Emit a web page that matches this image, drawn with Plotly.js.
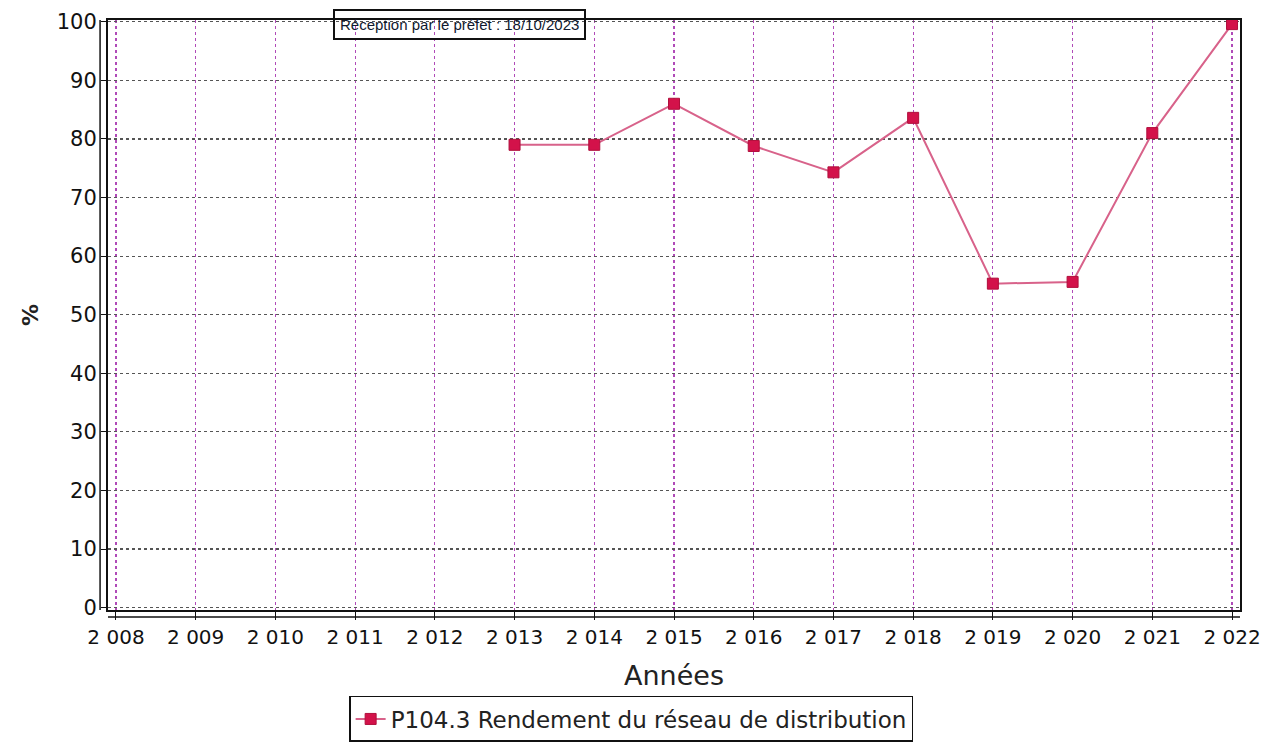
<!DOCTYPE html>
<html>
<head>
<meta charset="utf-8">
<script src="https://cdn.plot.ly/plotly-3.0.1.min.js"></script>
<style>html,body{margin:0;padding:0;background:#fff;}#chart{width:1275px;height:742px;}</style>
</head>
<body>
<div id="chart"></div>
<script>
const years = [2013, 2014, 2015, 2016, 2017, 2018, 2019, 2020, 2021, 2022];
const rendement = [79.0, 79.0, 86.0, 78.8, 74.3, 83.6, 55.3, 55.6, 81.0, 99.6];
const xTickVals = [2008, 2009, 2010, 2011, 2012, 2013, 2014, 2015, 2016, 2017, 2018, 2019, 2020, 2021, 2022];
const xTickText = ["2 008","2 009","2 010","2 011","2 012","2 013","2 014","2 015","2 016","2 017","2 018","2 019","2 020","2 021","2 022"];
const yTickVals = [0, 10, 20, 30, 40, 50, 60, 70, 80, 90, 100];
const seriesName = "P104.3 Rendement du réseau de distribution";
const stampText = "Réception par le préfet : 18/10/2023";

const trace = {
  x: years, y: rendement, name: seriesName,
  type: 'scatter', mode: 'lines+markers',
  line: {color: '#d8628a', width: 2},
  marker: {symbol: 'square', size: 11, color: '#d3124a', line: {color: '#b00f3c', width: 1}}
};

const layout = {
  width: 1275, height: 742,
  margin: {l: 108, r: 35, t: 20, b: 132, autoexpand: false},
  paper_bgcolor: '#fff', plot_bgcolor: '#fff',
  font: {family: 'DejaVu Sans', color: '#111'},
  showlegend: true,
  legend: {
    orientation: 'h', x: 0.495, xanchor: 'center', xref: 'container',
    y: 0.062, yanchor: 'top', yref: 'container',
    bordercolor: '#111', borderwidth: 1.5, font: {size: 23, color: '#222'},
    itemwidth: 30
  },
  xaxis: {
    range: [2007.9, 2022.1], tickvals: xTickVals, ticktext: xTickText,
    tickfont: {size: 20}, ticks: 'outside', ticklen: 8, tickcolor: '#111',
    ticklabelstandoff: 0,
    showgrid: true, gridcolor: '#b04ab8', griddash: 'dot', gridwidth: 1.2,
    showline: true, linecolor: '#111', linewidth: 2, mirror: true,
    zeroline: false, automargin: false,
    title: {text: 'Années', font: {size: 27, color: '#222'}, standoff: 18}
  },
  yaxis: {
    range: [-0.4, 100.3], tickvals: yTickVals,
    tickfont: {size: 21}, ticks: 'outside', ticklen: 5, tickcolor: '#111',
    showgrid: true, gridcolor: '#555', griddash: 'dot', gridwidth: 1.2,
    showline: true, linecolor: '#111', linewidth: 2, mirror: true,
    zeroline: false, automargin: false,
    title: {text: '<b>%</b>', font: {size: 22, color: '#222'}, standoff: 12}
  },
  shapes: [
    {type: 'line', xref: 'paper', yref: 'paper', x0: -0.007, x1: -0.007, y0: 0, y1: 1, line: {color: '#111', width: 1.5}},
    {type: 'line', xref: 'paper', yref: 'paper', x0: 0, x1: 1, y0: -0.012, y1: -0.012, line: {color: '#111', width: 1.5}}
  ],
  annotations: [{
    text: stampText, xref: 'paper', yref: 'paper', x: 0.199, y: 0.993, xanchor: 'left', yanchor: 'middle',
    showarrow: false, font: {family: 'Liberation Sans', size: 15, color: '#111a30'},
    bgcolor: 'rgba(255,255,255,0)', bordercolor: '#111', borderwidth: 2, borderpad: 5
  }]
};

Plotly.newPlot('chart', [trace], layout, {displayModeBar: false, staticPlot: true});
</script>
</body>
</html>
